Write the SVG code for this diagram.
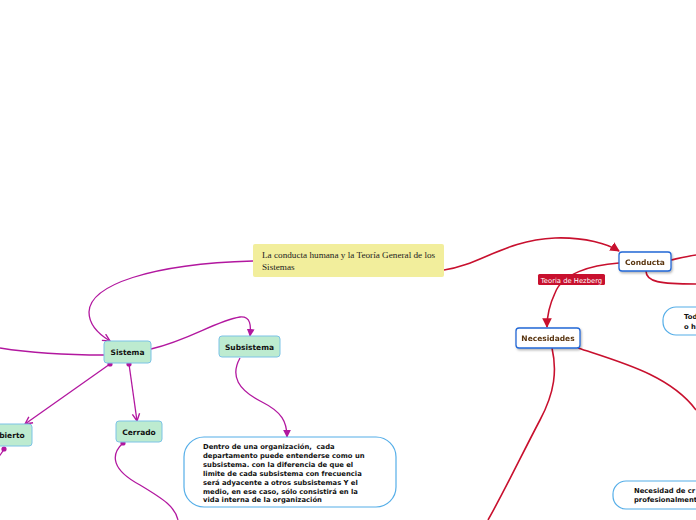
<svg xmlns="http://www.w3.org/2000/svg" width="696" height="520" viewBox="0 0 696 520">
<defs>
<style>
.mg{fill:none;stroke:#b2179f;stroke-width:1.3}
.rd{fill:none;stroke:#c8102e;stroke-width:1.6}
.green rect{fill:#bdebd0;stroke:#7cc3e6;stroke-width:1}
.blue rect{fill:#ffffff;stroke:#2368d6;stroke-width:1.3}
.pill rect{fill:#ffffff;stroke:#55aee8;stroke-width:1.2}
.lbl{font-family:"DejaVu Sans",sans-serif;font-weight:bold;font-size:7.5px;fill:#111;text-anchor:middle}
.brown{fill:#5a3510}
.body{font-family:"DejaVu Sans",sans-serif;font-weight:bold;font-size:6.8px;fill:#111}
</style>
<marker id="mo" viewBox="0 0 10 10" refX="9" refY="5" markerWidth="7" markerHeight="7" orient="auto"><path d="M1,1 L9,5 L1,9" fill="none" stroke="#b2179f" stroke-width="1.5"/></marker>
<marker id="mf" viewBox="0 0 10 10" refX="9" refY="5" markerWidth="6" markerHeight="6" orient="auto"><path d="M0,0 L10,5 L0,10 z" fill="#b2179f"/></marker>
<marker id="rf" viewBox="0 0 10 10" refX="9" refY="5" markerWidth="6" markerHeight="6" orient="auto"><path d="M0,0 L10,5 L0,10 z" fill="#c8102e"/></marker>
<marker id="dot" viewBox="0 0 10 10" refX="5" refY="5" markerWidth="5" markerHeight="5"><circle cx="5" cy="5" r="4" fill="#b2179f"/></marker>
<filter id="sh" x="-10%" y="-10%" width="130%" height="150%"><feDropShadow dx="1" dy="1.5" stdDeviation="0.8" flood-color="#000" flood-opacity="0.3"/></filter>
</defs>
<rect width="696" height="520" fill="#ffffff"/>
<g id="connectors">
<path class="mg" d="M253,261 C150,264 90,285 89,312 C89,326 100,335 110,341" marker-end="url(#mo)"/>
<path class="mg" d="M104,355 C60,355 25,352 0,348"/>
<path class="mg" d="M151,349 C190,340 215,321 240,317 C251,316 251,326 250,336" marker-end="url(#mf)"/>
<path class="mg" d="M240,358 C230,376 238,390 262,402 C282,412 287,422 287,437" marker-end="url(#mf)"/>
<path class="mg" d="M110,364 L25,424" marker-start="url(#dot)" marker-end="url(#mo)"/>
<path class="mg" d="M129,364 L137,421" marker-start="url(#dot)" marker-end="url(#mo)"/>
<path class="mg" d="M4,449 C2,453 0,455 -2,458" marker-start="url(#dot)"/>
<path class="mg" d="M123,443 C110,455 112,470 140,485 C165,500 175,507 178,520" marker-start="url(#dot)"/>
<path class="rd" d="M444,270 C480,265 505,240 555,238 C585,237 608,244 619,251" marker-end="url(#rf)"/>
<path class="rd" d="M671,260 C680,258 688,256 696,255"/>
<path class="rd" d="M646,271 C646,282 660,284 696,284"/>
<path class="rd" d="M619,263 C590,265 562,274 555,293 C548,308 547,318 547,327" marker-end="url(#rf)"/>
<path class="rd" d="M552,348 C557,370 555,392 540,420 C520,458 505,490 488,520"/>
<path class="rd" d="M578,348 C620,362 670,375 696,410"/>
</g>
<g id="central">
<rect x="253" y="244" width="191" height="33" rx="2" fill="#f2ee9c"/>
<text font-family="Liberation Serif, serif" font-size="9.2" fill="#222"><tspan x="262" y="258">La conducta humana y la Teoría General de los</tspan><tspan x="262" y="270">Sistemas</tspan></text>
</g>
<g id="sistema" class="green"><rect x="104" y="341" width="47" height="22" rx="3"/><text class="lbl" x="127.5" y="355">Sistema</text></g>
<g id="subsistema" class="green"><rect x="219" y="336" width="61" height="21" rx="3"/><text class="lbl" x="249.5" y="349.5">Subsistema</text></g>
<g id="abierto" class="green"><rect x="-14" y="424" width="46" height="22" rx="3"/><text class="lbl" x="9" y="438">Abierto</text></g>
<g id="cerrado" class="green"><rect x="116" y="421" width="46" height="21" rx="3"/><text class="lbl" x="139" y="434.5">Cerrado</text></g>
<g id="subsistema-desc" class="pill">
<rect x="184" y="437" width="212" height="70" rx="20"/>
<text class="body" xml:space="preserve"><tspan x="203" y="449">Dentro de una organización,  cada</tspan><tspan x="203" y="458">departamento puede entenderse como un</tspan><tspan x="203" y="467">subsistema. con la diferencia de que el</tspan><tspan x="203" y="476">limite de cada subsistema con frecuencia</tspan><tspan x="203" y="485">será adyacente a otros subsistemas Y el</tspan><tspan x="203" y="493.5">medio, en ese caso, sólo consistirá en la</tspan><tspan x="203" y="502">vida interna de la organización</tspan></text>
</g>
<g id="conducta" class="blue" filter="url(#sh)"><rect x="619" y="252" width="52" height="19" rx="3"/><text class="lbl brown" x="645" y="264.5">Conducta</text></g>
<g id="hezberg-label"><rect x="538" y="274" width="67" height="11" rx="1.5" fill="#c8102e"/><text x="571.5" y="282.5" font-family="DejaVu Sans, sans-serif" font-size="6.8" fill="#ffffff" text-anchor="middle">Teoria de Hezberg</text></g>
<g id="necesidades" class="blue" filter="url(#sh)"><rect x="516" y="328" width="64" height="20" rx="3"/><text class="lbl brown" x="548" y="341">Necesidades</text></g>
<g id="todo" class="pill"><rect x="663" y="307" width="60" height="28" rx="13"/><text class="body"><tspan x="684" y="319">Todo</tspan><tspan x="684" y="328.5">o h</tspan></text></g>
<g id="necesidad-crecer" class="pill"><rect x="613" y="481" width="100" height="28" rx="13"/><text class="body"><tspan x="634" y="493">Necesidad de cr</tspan><tspan x="634" y="502">profesionalment</tspan></text></g>
</svg>
